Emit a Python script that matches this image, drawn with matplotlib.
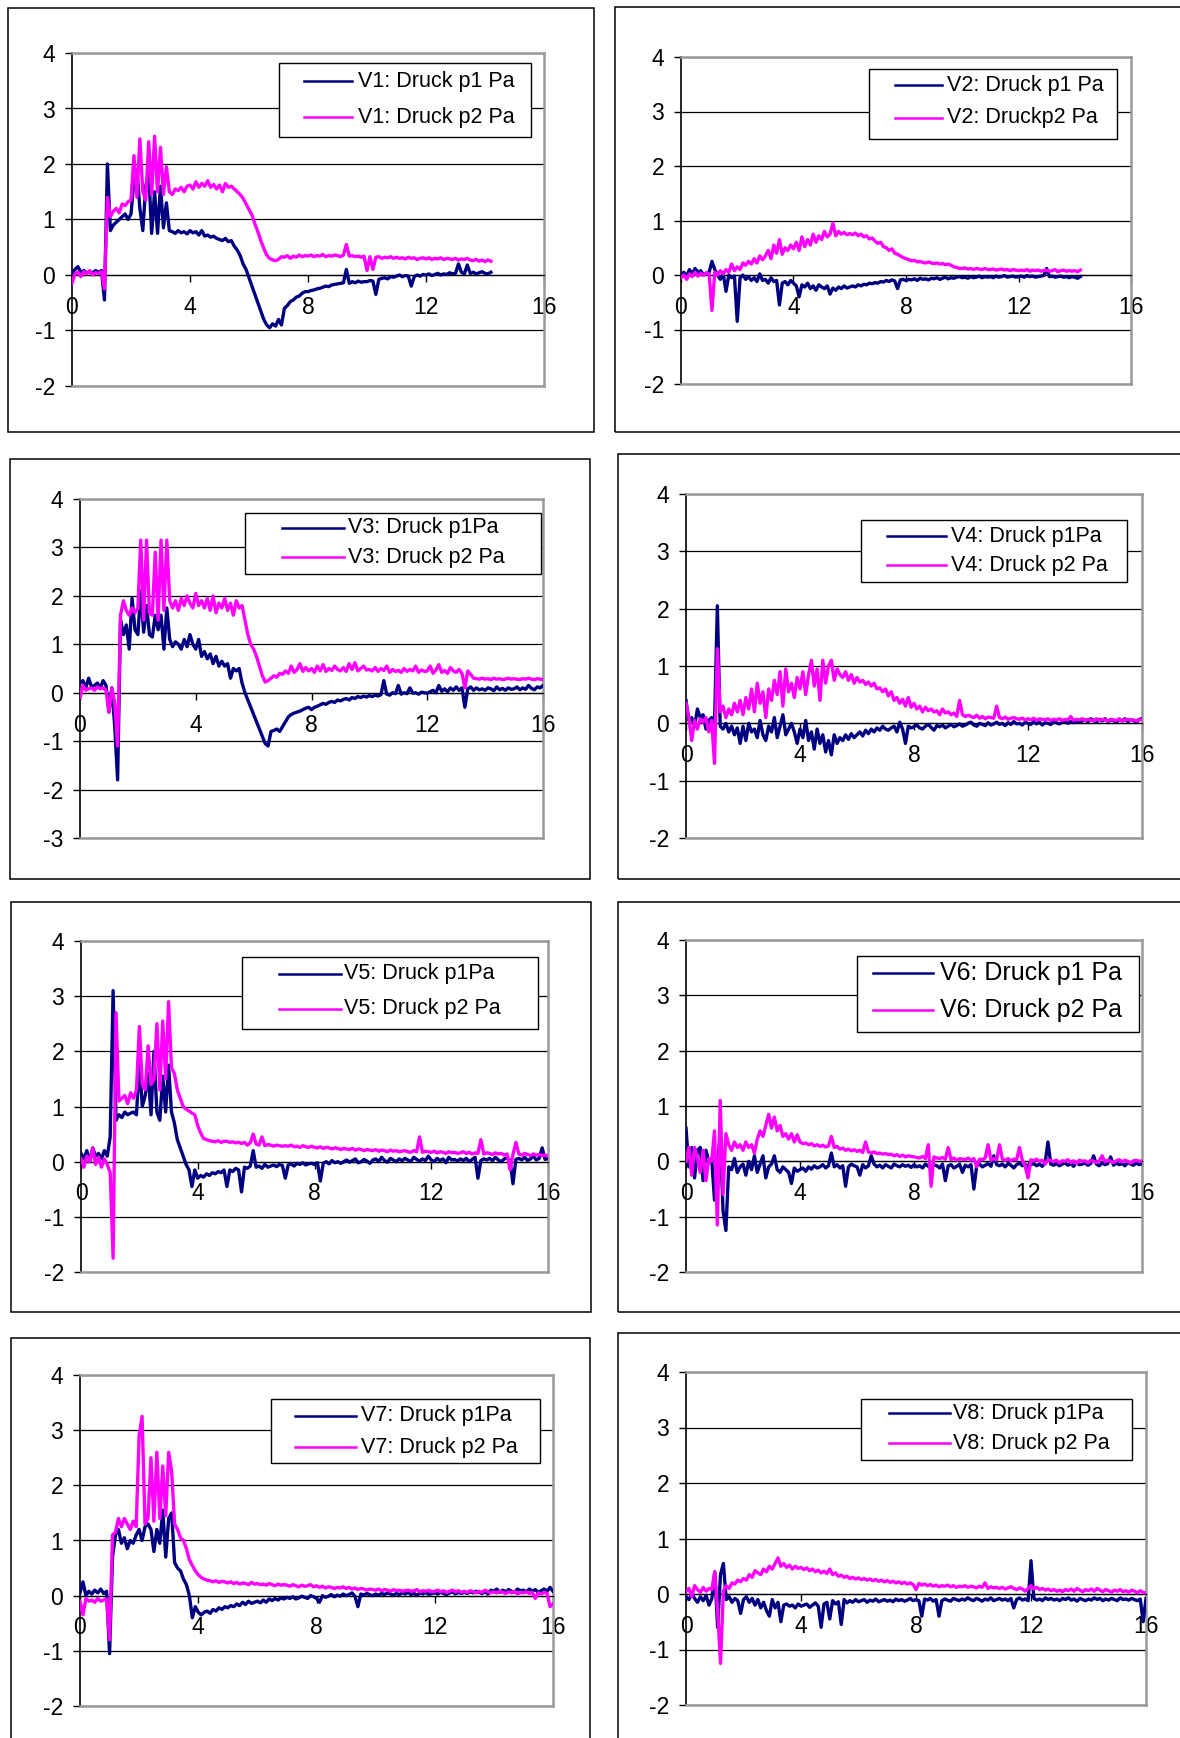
import numpy as np
import matplotlib
matplotlib.use("Agg")
import matplotlib.pyplot as plt
from matplotlib.patches import Rectangle
from matplotlib.lines import Line2D

plt.rcParams["font.family"] = ["Liberation Sans", "DejaVu Sans"]
plt.rcParams["axes.unicode_minus"] = False

# ------------------------------------------------------------------
#  Pressure traces, values in 1/100 Pa, one sample every 0.1 s
# ------------------------------------------------------------------
V1_P1 = [2, 10, 15, 5, 8, 3, 6, 4, 8, 5,
         8, -45, 200, 80, 90, 95, 100, 105, 110, 100,
         110, 170, 190, 120, 80, 160, 185, 75, 150, 75,
         160, 85, 130, 80, 78, 75, 80, 76, 78, 74,
         80, 76, 78, 72, 80, 70, 72, 68, 70, 66,
         64, 62, 66, 60, 62, 52, 45, 35, 20, 10,
         -5, -20, -35, -50, -65, -80, -90, -95, -88, -92,
         -80, -90, -60, -55, -48, -45, -40, -38, -33, -30,
         -30, -28, -27, -25, -24, -22, -20, -21, -18, -17,
         -16, -15, -14, 10, -15, -12, -14, -11, -13, -12,
         -12, -10, -11, -35, -8, -6, -5, -7, -3, -4,
         -2, 0, -3, -1, -2, -20, -3, 0, -2, 1,
         0, 2, -1, 1, 3, 0, 2, 1, 4, 2,
         3, 20, 5, 2, 18, 3, 5, 2, 4, 6,
         3, 2, 5]
V1_P2 = [-15, 2, 5, -3, 6, 2, 8, 0, 4, 3,
         6, -25, 140, 105, 115, 120, 112, 128, 125, 132,
         135, 215, 140, 245, 150, 135, 240, 145, 250, 150,
         230, 145, 195, 150, 145, 155, 152, 158, 150, 160,
         162, 155, 168, 158, 165, 160, 170, 158, 163, 155,
         162, 150, 165, 158, 160, 155, 150, 145, 138, 128,
         118, 108, 92, 78, 62, 48, 36, 30, 27, 26,
         28, 33, 32, 35, 30, 34, 32, 36, 33, 35,
         34, 36, 33, 35, 34, 37, 33, 35, 34, 36,
         35, 33, 36, 55, 34, 35, 33, 34, 32, 34,
         8, 33, 10, 32, 33, 30, 32, 31, 33, 30,
         32, 30, 31, 29, 32, 30, 31, 28, 30, 31,
         29, 31, 28, 30, 29, 31, 28, 30, 29, 28,
         30, 27, 29, 28, 30, 27, 26, 28, 25, 27,
         24, 27, 25]

V2_P1 = [0, 5, -3, 10, 2, 12, 5, 8, 0, 3,
         5, 25, 10, 0, -8, 3, -30, 0, -5, -2,
         -85, -5, 0, -8, -3, -10, -5, -12, 2, -10,
         -8, -15, -5, -12, -10, -55, -15, -12, -18, -10,
         -15, -20, -40, -18, -22, -15, -25, -20, -28, -18,
         -22, -25, -20, -35, -24, -28, -22, -25, -20, -24,
         -22, -20, -22, -18, -20, -17, -18, -15, -16, -14,
         -15, -12, -13, -10, -12, -9, -11, -25, -9, -8,
         -10, -8, -9, -7, -10, -6, -8, -7, -9, -6,
         -7, -5, -8, -6, -4, -7, -5, -6, -4, -3,
         -5, -4, -6, -3, -5, -4, -2, -5, -3, -4,
         -3, -5, -2, -4, -3, -1, -4, -3, -2, -4,
         -3, -2, -4, -1, -3, -2, -4, -3, -2, -1,
         12, -3, -2, -4, -3, -2, -4, -3, -5, -3,
         -4, -6, -3]
V2_P2 = [-5, 0, -8, 2, -3, 5, -2, 3, 0, 4,
         2, -65, 5, 0, 8, 2, 10, 5, 20, 8,
         15, 10, 22, 18, 25, 20, 30, 22, 35, 28,
         35, 45, 30, 55, 40, 65, 38, 50, 45, 55,
         48, 60, 45, 70, 52, 65, 55, 75, 60, 72,
         65, 80, 70, 75, 95, 72, 80, 75, 78, 74,
         76, 74, 77, 72, 75, 70, 72, 66, 68, 62,
         58, 60, 52, 50, 45, 48, 40, 38, 35, 32,
         30, 28, 26, 27, 24, 25, 23, 22, 24, 22,
         21, 22, 20, 21, 19, 20, 18, 15, 14, 12,
         12, 13, 11, 12, 10, 12, 11, 10, 12, 10,
         10, 11, 9, 10, 11, 9, 10, 8, 10, 9,
         8, 9, 8, 10, 7, 9, 8, 9, 7, 8,
         9, 7, 8, 10, 6, 8, 9, 7, 8, 7,
         8, 6, 9]

V3_P1 = [20, 25, 10, 30, 12, 15, 20, 10, 25, 15,
         -40, 10, -70, -180, 150, 120, 140, 90, 195, 130,
         120, 210, 125, 180, 120, 115, 160, 130, 160, 90,
         175, 110, 95, 105, 100, 90, 110, 95, 120, 100,
         90, 110, 75, 85, 70, 80, 60, 75, 55, 65,
         55, 60, 30, 50, 45, 50, 20, 0, -15, -30,
         -45, -60, -75, -90, -105, -110, -80, -78, -75, -80,
         -70, -60, -50, -45, -42, -40, -38, -35, -32, -30,
         -35, -30, -28, -25, -22, -24, -20, -18, -20, -15,
         -17, -14, -12, -15, -10, -12, -8, -10, -7, -9,
         -6, -8, -5, -7, -4, 25, -3, -5, 0, -2,
         15, -3, 0, -2, 10, -1, 0, -3, 1, 0,
         -1, 2, 5, 0, 15, 3, 8, 2, 10, 5,
         12, 5, 10, -30, 8, 12, 5, 10, 6, 8,
         5, 10, 8, 4, 12, 6, 9, 5, 10, 7,
         8, 12, 6, 10, 7, 15, 9, 6, 12, 10, 15]
V3_P2 = [-10, 15, 5, 8, 10, 5, 12, 8, 10, 5,
         -40, 10, -20, -110, 160, 190, 170, 160, 175, 165,
         175, 315, 150, 315, 165, 160, 290, 150, 315, 170,
         315, 190, 175, 190, 170, 195, 180, 200, 185, 175,
         205, 180, 190, 175, 195, 170, 200, 165, 185, 175,
         195, 170, 185, 160, 190, 175, 180, 150, 120, 100,
         90, 75, 55, 35, 22, 25, 30, 35, 32, 40,
         38, 45, 40, 55, 42, 48, 60, 44, 52, 45,
         50, 42, 55, 45, 58, 44, 50, 46, 55, 48,
         45, 52, 44, 60, 48, 62, 45, 50, 55, 47,
         48, 45, 52, 44, 50, 46, 55, 42, 48, 44,
         46, 42, 50, 44, 48, 45, 55, 42, 47, 44,
         45, 55, 40, 47, 58, 42, 46, 40, 52, 45,
         42, 48, 40, 10, 45, 38, 30, 29, 28, 30,
         28, 29, 27, 30, 28, 29, 27, 28, 30, 28,
         29, 28, 27, 29, 28, 30, 28, 27, 29, 28, 27]

V4_P1 = [40, 5, 10, -5, 25, 10, 15, -10, 5, 10,
         0, 205, -5, -10, 0, -15, -5, -20, -8, -35,
         -5, -30, 0, -15, -10, -25, 5, -20, -30, -5,
         -15, 10, -25, -5, 15, -20, -10, 0, -15, -35,
         -10, -25, 5, -30, -15, -45, -10, -35, -20, -50,
         -30, -55, -20, -35, -25, -30, -20, -28, -18, -25,
         -20, -15, -22, -12, -18, -10, -15, -8, -12, -5,
         -10, -12, -8, -5, -15, 2, -10, -35, -5, -8,
         -6, -3, -8, -10, -5, -2, -7, -12, -4, -6,
         -3, -8, -5, -2, -6, -4, -1, -5, -3, 0,
         2, -3, -5, 0, -2, -4, 1, -3, -1, 2,
         -2, 0, -4, 1, -2, 3, -1, 0, -3, 2,
         0, -2, 3, -1, 2, -3, 1, 0, -2, 3,
         1, -1, 2, 4, 0, 3, 1, 5, 2, 4,
         6, 3, 8, 5, 2, 7, 4, 8, 3, 6,
         5, 2, 7, 4, 8, 3, 6, 5, 2, 7, 8]
V4_P2 = [35, 10, -30, 5, -10, 8, 2, 10, -15, 5,
         -70, 130, 20, 30, 10, 25, 15, 35, 20, 40,
         15, 45, 25, 60, 20, 70, 35, 55, 10, 60,
         40, 75, 50, 90, 30, 95, 55, 70, 45, 80,
         60, 90, 50, 85, 110, 65, 95, 40, 110, 70,
         100, 110, 75, 95, 85, 80, 90, 75, 85, 70,
         80, 72, 75, 68, 72, 65, 70, 60, 62, 55,
         60, 48, 55, 40, 45, 35, 42, 30, 45, 28,
         35, 25, 30, 20, 28, 22, 25, 20, 22, 15,
         25, 18, 20, 15, 18, 12, 40, 15, 12, 14,
         12, 10, 14, 9, 12, 8, 11, 10, 9, 30,
         10, 8, 11, 7, 9, 10, 8, 7, 9, 6,
         8, 6, 9, 5, 8, 7, 6, 8, 5, 7,
         6, 8, 5, 7, 6, 12, 5, 7, 6, 8,
         5, 7, 6, 4, 8, 5, 7, 6, 4, 7,
         6, 5, 8, 4, 6, 7, 5, 6, 4, 7, 6]

V5_P1 = [15, 5, 20, 0, 25, 10, 15, 5, 20, 10,
         45, 310, 75, 85, 80, 90, 85, 88, 90, 85,
         180, 100, 120, 160, 85, 200, 90, 75, 155, 90,
         175, 90, 70, 40, 25, 10, -5, -15, -45, -15,
         -30, -25, -28, -22, -25, -20, -22, -18, -20, -15,
         -45, -15, -18, -12, -15, -55, -10, -12, -8, 20,
         -10, -8, -12, -5, -10, -8, -6, -9, -5, -7,
         -30, -6, -4, -8, -3, -5, -2, -6, -4, -3,
         -5, -2, -35, -3, 0, -4, 2, -2, 0, -3,
         0, 3, -1, 2, 5, -2, 0, 4, 1, -3,
         3, 5, 0, 8, 2, -1, 6, 3, 0, 5,
         2, 6, 3, 0, 8, 4, 1, 5, 2, 10,
         3, 0, 6, 2, 5, -2, 8, 3, 4, 1,
         5, 2, 6, 0, 4, 8, -30, 2, 5, 3,
         6, 2, 8, 3, 0, 5, 7, 2, -40, 4,
         6, 3, 8, 2, 5, 10, 3, 6, 25, 4, 6]
V5_P2 = [5, -10, 10, 0, 25, -5, 8, -10, 5, -5,
         -20, -175, 270, 110, 115, 120, 105, 125, 115, 130,
         245, 140, 130, 210, 140, 150, 250, 130, 255, 150,
         290, 170, 160, 130, 115, 100, 95, 92, 88, 85,
         65, 52, 42, 40, 38, 37, 36, 38, 35, 37,
         37, 35, 36, 34, 35, 33, 35, 30, 34, 50,
         32, 30, 45, 29, 31, 30, 28, 30, 29, 28,
         29, 28, 30, 27, 28, 26, 29, 27, 26, 28,
         26, 25, 27, 24, 26, 25, 23, 25, 24, 22,
         24, 23, 22, 24, 21, 23, 22, 20, 22, 21,
         20, 22, 19, 21, 20, 18, 21, 19, 20, 18,
         19, 20, 18, 17, 20, 18, 45, 17, 19, 18,
         17, 19, 16, 18, 17, 15, 18, 16, 17, 15,
         16, 18, 15, 17, 14, 16, 15, 40, 14, 16,
         15, 13, 16, 14, 15, 12, 14, -15, 13, 35,
         14, 12, 15, 13, 11, 14, 12, 13, 11, 12, 10]

V6_P1 = [60, -10, 25, -30, 20, 25, -35, 20, 0, 5,
         -70, -10, 50, -90, -125, -10, -15, 5, -20, -10,
         -5, -25, 0, -15, 10, -20, -5, 10, -30, -10,
         -5, 10, -15, -20, -10, -15, -20, -40, -12, -18,
         -15, -12, -18, -10, -14, -8, -12, -10, -6, -12,
         -8, 15, -10, -6, -12, -8, -45, -10, -5, -8,
         -10, -25, -6, -12, -8, 10, -5, -10, -7, -12,
         -6, -9, -12, -5, -8, -10, -6, -9, -7, -11,
         -6, -10, -8, -12, -5, -9, -10, -6, -8, -12,
         -5, -35, -8, -6, -12, -9, -5, -20, -7, -10,
         -6, -50, -8, -5, -10, -7, -4, -9, 10, -6,
         -8, -5, -10, -4, -7, -12, -6, -3, -8, -5,
         -10, -6, -4, -8, -5, -9, -3, 35, -5, -7,
         -4, -8, -5, -3, -7, -4, -9, -2, -6, -5,
         -3, -7, -4, 10, -5, -8, -3, -6, -4, 8,
         -7, -3, -6, -4, -8, -2, -5, -7, -3, -6, -4]
V6_P2 = [0, 25, -25, 25, 5, -20, 20, -35, 5, 0,
         55, -115, 110, -60, 50, 30, 20, 35, 25, 30,
         20, 35, 25, 30, 15, 40, 55, 45, 65, 85,
         60, 80, 55, 65, 45, 50, 40, 50, 35, 48,
         35, 32, 33, 30, 32, 28, 30, 27, 29, 26,
         28, 45, 25, 27, 22, 24, 20, 22, 19, 21,
         18, 20, 16, 35, 17, 15, 17, 14, 15, 13,
         14, 12, 13, 10, 12, 9, 11, 8, 10, 9,
         8, 7, 6, 9, 5, 30, -45, 8, 6, 5,
         7, 4, 25, 3, 6, 2, 5, 4, 3, 6,
         2, 5, -10, 4, 3, 6, 30, 2, 5, 3,
         30, 4, 2, 5, 1, 4, 3, 25, 2, -8,
         -30, 3, 1, 4, 0, 2, -5, 3, 1, 0,
         2, -3, 1, 0, 3, -2, 1, -4, 2, 0,
         1, -3, 2, 0, -2, 1, 10, -1, 2, 0,
         -2, 1, 3, -1, 2, 0, -3, 1, 2, 0, 1]

V7_P1 = [5, 25, 0, 8, 3, 10, 5, 12, 4, 8,
         -105, 70, 110, 120, 95, 105, 85, 100, 95, 110,
         120, 100, 125, 130, 120, 80, 120, 95, 155, 70,
         140, 150, 60, 50, 45, 30, 20, 0, -40, -20,
         -30, -35, -30, -28, -32, -25, -28, -22, -25, -20,
         -22, -18, -20, -15, -18, -12, -16, -10, -14, -12,
         -10, -13, -8, -12, -6, -9, -5, -8, -4, -6,
         -3, -5, -2, -6, -4, -1, -3, -5, 0, -2,
         -5, -12, 0, -3, -1, 2, -2, 1, -1, 3,
         0, 2, 5, -1, -20, 3, 1, 4, 2, 0,
         3, 1, 4, 2, 5, 3, 1, 4, 2, 5,
         3, 6, 2, 4, 1, 5, 3, 6, 2, 4,
         5, 3, 6, 4, 2, 5, 7, 3, 6, 4,
         6, 4, 7, 5, 8, 6, 4, 7, 3, 10,
         8, 12, 6, 10, 7, 11, 8, 6, 12, 9,
         10, 7, 12, 8, 11, 6, 9, 12, 8, 15, 8]
V7_P2 = [-10, -35, -5, -10, -8, -12, -5, -10, -8, -6,
         -80, 110, 115, 140, 125, 140, 130, 120, 135, 125,
         290, 325, 130, 140, 250, 135, 260, 140, 235, 145,
         260, 225, 130, 120, 105, 100, 85, 65, 55, 45,
         38, 33, 30, 28, 27, 25, 27, 24, 26, 25,
         23, 25, 22, 24, 21, 23, 22, 20, 24, 21,
         22, 20, 21, 19, 22, 20, 18, 21, 19, 20,
         19, 17, 20, 18, 16, 19, 17, 18, 20, 16,
         18, 15, 17, 14, 16, 15, 13, 15, 14, 16,
         13, 15, 12, 14, 11, 13, 12, 10, 12, 11,
         10, 12, 9, 11, 10, 8, 11, 9, 10, 8,
         9, 10, 8, 9, 11, 7, 9, 8, 10, 7,
         8, 10, 7, 9, 6, 8, 10, 7, 9, 6,
         8, 6, 9, 7, 5, 8, 6, 10, 7, 5,
         7, 5, 8, 6, 4, 7, 5, 8, 3, 6,
         5, 7, 4, 6, -5, 5, 3, 6, 4, -20, -15]

V8_P1 = [-5, -10, 0, -8, -15, -5, -12, -3, -20, -8,
         40, -60, 35, 55, -10, -5, -15, -8, -12, -35,
         -10, -5, -15, -8, -20, -10, -25, -15, -30, -40,
         -10, -25, -15, -50, -20, -18, -22, -20, -25, -18,
         -22, -20, -18, -24, -20, -16, -22, -60, -18, -15,
         -45, -12, -18, -14, -55, -10, -16, -12, -15, -10,
         -14, -12, -10, -15, -11, -13, -9, -14, -12, -10,
         -13, -11, -14, -9, -12, -10, -13, -11, -8, -12,
         -10, -12, -40, -9, -11, -8, -13, -10, -40, -12,
         -9, -11, -13, -8, -10, -12, -9, -11, -7, -10,
         -12, -8, -10, -13, -9, -11, -7, -12, -10, -8,
         -11, -9, -12, -8, -25, -10, -7, -11, -9, -12,
         60, -8, -11, -9, -12, -7, -10, -8, -11, -9,
         -12, -8, -10, -7, -11, -9, -13, -8, -10, -12,
         -9, -11, -7, -10, -8, -12, -9, -11, -8, -10,
         -12, -7, -10, -9, -11, -8, -10, -12, -9, -50, -8]
V8_P2 = [5, 10, -5, 15, 8, 3, 12, 5, 10, 8,
         40, -30, -125, 5, 15, 10, 20, 18, 25, 22,
         28, 25, 35, 30, 42, 38, 35, 45, 40, 50,
         45, 55, 65, 50, 55, 48, 52, 45, 50, 46,
         48, 44, 47, 42, 45, 40, 43, 38, 41, 37,
         45, 35, 38, 32, 34, 30, 32, 28, 30, 27,
         29, 26, 28, 25, 27, 24, 26, 23, 25, 22,
         24, 21, 23, 20, 22, 19, 21, 18, 20, 17,
         8, 19, 16, 18, 15, 17, 14, 16, 13, 15,
         14, 16, 13, 15, 12, 14, 13, 15, 12, 14,
         13, 11, 14, 12, 20, 10, 13, 11, 12, 10,
         12, 9, 11, 13, 10, 8, 11, 9, 5, 10,
         15, 9, 12, 8, 10, 7, 9, 6, 8, 5,
         7, 4, 8, 6, 9, 5, 10, 7, 4, 8,
         6, 9, 5, 10, 7, 4, 8, 6, 3, 7,
         5, 8, 4, 6, 3, 7, 5, 2, 6, 3, 2]

LABELS = [
    ("V1: Druck p1 Pa", "V1: Druck p2 Pa"),
    ("V2: Druck p1 Pa", "V2: Druckp2 Pa"),
    ("V3: Druck p1Pa", "V3: Druck p2 Pa"),
    ("V4: Druck p1Pa", "V4: Druck p2 Pa"),
    ("V5: Druck p1Pa", "V5: Druck p2 Pa"),
    ("V6: Druck p1 Pa", "V6: Druck p2 Pa"),
    ("V7: Druck p1Pa", "V7: Druck p2 Pa"),
    ("V8: Druck p1Pa", "V8: Druck p2 Pa"),
]
SERIES = [(V1_P1, V1_P2), (V2_P1, V2_P2), (V3_P1, V3_P2), (V4_P1, V4_P2),
          (V5_P1, V5_P2), (V6_P1, V6_P2), (V7_P1, V7_P2), (V8_P1, V8_P2)]
Y_MIN = [-2, -2, -3, -2, -2, -2, -2, -2]
X_TICKS = [0, 4, 8, 12, 16]

# ------------------------------------------------------------------
#  Layout (pixels of the 1180 x 1738 canvas)
# ------------------------------------------------------------------
W, H = 1180, 1738
# outer chart box, plot area (left, right, top, bottom), legend box,
# legend sample line x-range, legend text x, legend row y's, legend font
PANELS = [
    dict(box=(8, 8, 594, 432), area=(72, 544, 53, 386),
         leg=(279, 63, 531, 137), lx=(304, 352), tx=358, rows=(81, 117), fs=15.5),
    dict(box=(615, 7, 1190, 432), area=(681, 1131, 57, 384),
         leg=(869, 69, 1117, 139), lx=(895, 942), tx=947, rows=(85, 118), fs=15.5),
    dict(box=(10, 459, 590, 879), area=(80, 543, 499, 838),
         leg=(245, 513, 541, 574), lx=(282, 344), tx=348, rows=(528, 557), fs=15.5),
    dict(box=(618, 454, 1190, 879), area=(686, 1142, 494, 838),
         leg=(861, 520, 1127, 582), lx=(887, 946), tx=951, rows=(536, 565), fs=15.5),
    dict(box=(11, 902, 591, 1312), area=(81, 548, 941, 1272),
         leg=(242, 957, 538, 1029), lx=(279, 341), tx=344, rows=(974, 1009), fs=15.5),
    dict(box=(618, 902, 1190, 1312), area=(686, 1142, 940, 1272),
         leg=(857, 956, 1139, 1032), lx=(873, 933), tx=940, rows=(973, 1010), fs=18),
    dict(box=(11, 1338, 590, 1760), area=(80, 553, 1375, 1706),
         leg=(271, 1399, 540, 1463), lx=(295, 356), tx=361, rows=(1416, 1447), fs=15.5),
    dict(box=(618, 1333, 1190, 1760), area=(686, 1146, 1372, 1705),
         leg=(861, 1399, 1132, 1460), lx=(889, 950), tx=953, rows=(1413, 1443), fs=15.5),
]

C_P1 = "#000080"
C_P2 = "#FF00FF"
C_FRAME = "#999999"


def fx(x):
    return x / W


def fy(y):
    return 1 - y / H


fig = plt.figure(figsize=(W / 100, H / 100), dpi=100)
fig.patch.set_facecolor("white")

for i, p in enumerate(PANELS):
    # outer chart border
    bx0, by0, bx1, by1 = p["box"]
    fig.patches.append(Rectangle((fx(bx0), fy(by1)), fx(bx1 - bx0), (by1 - by0) / H,
                                 transform=fig.transFigure, fill=False,
                                 edgecolor="black", lw=1.1, zorder=1))

    l, r, t, b = p["area"]
    ax = fig.add_axes([fx(l), fy(b), fx(r - l), (b - t) / H])
    ymin = Y_MIN[i]
    ax.set_xlim(0, 16)
    ax.set_ylim(ymin, 4)
    ax.set_axisbelow(True)

    # data
    p1, p2 = SERIES[i]
    y1 = np.array(p1) / 100.0
    y2 = np.array(p2) / 100.0
    t1 = np.arange(len(y1)) * 0.1
    t2 = np.arange(len(y2)) * 0.1
    ax.plot(t1, y1, color=C_P1, lw=2.4, zorder=3)
    ax.plot(t2, y2, color=C_P2, lw=2.4, zorder=3)

    # grid + frame
    ax.set_yticks(range(ymin, 5))
    ax.yaxis.grid(True, color="black", lw=0.9)
    ax.set_xticks(X_TICKS)
    ax.set_xticklabels([str(v) for v in X_TICKS])
    ax.spines["left"].set_color("black")
    ax.spines["left"].set_linewidth(1.2)
    ax.spines["bottom"].set_position(("data", 0))
    ax.spines["bottom"].set_color("black")
    ax.spines["bottom"].set_linewidth(0.9)
    for s in ("top", "right"):
        ax.spines[s].set_color(C_FRAME)
        ax.spines[s].set_linewidth(1.8)
    ax.axhline(ymin, color=C_FRAME, lw=1.8, clip_on=False, zorder=4)

    ax.tick_params(axis="y", direction="out", length=5, width=1, pad=7,
                   labelsize=16.5, color="black")
    ax.tick_params(axis="x", direction="out", length=5, width=1, pad=10,
                   labelsize=16.5, color="black")

    # legend
    lx0, ly0, lx1, ly1 = p["leg"]
    fig.patches.append(Rectangle((fx(lx0), fy(ly1)), fx(lx1 - lx0), (ly1 - ly0) / H,
                                 transform=fig.transFigure, facecolor="white",
                                 edgecolor="black", lw=1.0, zorder=5))
    for lbl, col, ry in zip(LABELS[i], (C_P1, C_P2), p["rows"]):
        fig.lines.append(Line2D([fx(p["lx"][0]), fx(p["lx"][1])], [fy(ry), fy(ry)],
                                transform=fig.transFigure, color=col, lw=1.8, zorder=6))
        fig.text(fx(p["tx"]), fy(ry), lbl, ha="left", va="center",
                 fontsize=p["fs"], zorder=7)

fig.savefig("out.png", dpi=100, facecolor="white")
